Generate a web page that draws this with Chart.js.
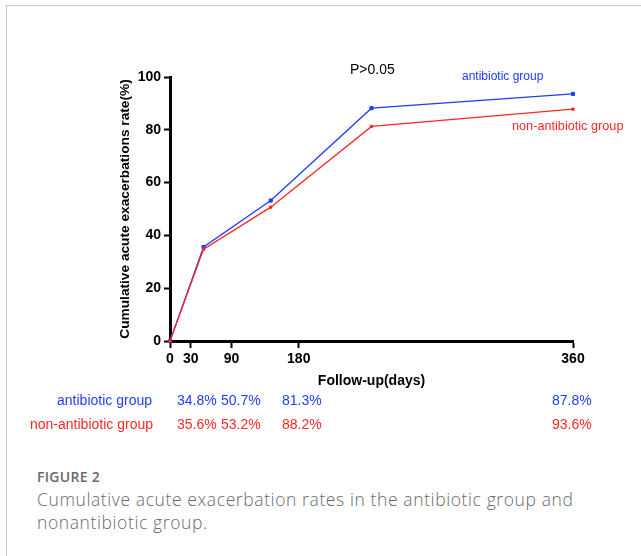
<!DOCTYPE html>
<html>
<head>
<meta charset="utf-8">
<script src="https://cdn.jsdelivr.net/npm/chart.js@4"></script>
<style>
  body { margin: 0; background: #fff; width: 641px; height: 556px; overflow: hidden; position: relative; }
  #frame { position: absolute; left: 6px; top: 5px; right: 0; bottom: 0; border-top: 1px solid #c8c8c8; border-left: 1px solid #c8c8c8; }
  #chart-container { position: absolute; left: 0; top: 0; width: 641px; height: 400px; }
  .txt { position: absolute; white-space: nowrap; font-family: "Liberation Sans", Arial, sans-serif; line-height: 20px; }
  .cap { position: absolute; white-space: nowrap; font-family: "Open Sans", Lato, sans-serif; color: #6a6a6a; }
</style>
</head>
<body>
<div id="frame"></div>
<div id="chart-container"><canvas id="myChart"></canvas></div>
<div id="notes"></div>

<script>
// follow-up days of each measurement
const days = [0, 30, 90, 180, 360];
// values as drawn in the plot
const antibioticLine = [0, 35.6, 53.2, 88.2, 93.6];
const nonAntibioticLine = [0, 34.8, 50.7, 81.3, 87.8];
// x tick marks as they sit on the printed axis, and their labels
const xTickPos = [0, 18.5, 55, 115, 360];
const xTickLabels = ['0', '30', '90', '180', '360'];
const yTicks = [0, 20, 40, 60, 80, 100];
// table under the axis
const tableRows = ['antibiotic group', 'non-antibiotic group'];
const antibioticTable = ['34.8%', '50.7%', '81.3%', '87.8%'];
const nonAntibioticTable = ['35.6%', '53.2%', '88.2%', '93.6%'];

const blue = '#1f3cff';
const red = '#ff2626';

const notes = document.getElementById('notes');
function addText(text, x, cy, size, color, opts = {}) {
  const d = document.createElement('div');
  d.className = 'txt';
  d.textContent = text;
  d.style.fontSize = size + 'px';
  d.style.color = color;
  d.style.top = (cy - 10) + 'px';
  if (opts.right) { d.style.right = (641 - x) + 'px'; } else { d.style.left = x + 'px'; }
  notes.appendChild(d);
}

addText('P>0.05', 350, 69, 14, '#000');
addText(tableRows[0], 462, 76, 12, blue);
addText(tableRows[1], 512, 126, 12.7, red);

const colX = [177, 221, 282, 552];
addText(tableRows[0], 152, 400, 14, blue, { right: true });
addText(tableRows[1], 153, 424, 14, red, { right: true });
for (let i = 0; i < colX.length; i++) {
  addText(antibioticTable[i], colX[i], 400, 14, blue);
  addText(nonAntibioticTable[i], colX[i], 424, 14, red);
}

function addCaption(text, x, cy, size, weight, spacing) {
  const d = document.createElement('div');
  d.className = 'cap';
  d.textContent = text;
  d.style.fontSize = size + 'px';
  d.style.fontWeight = weight;
  d.style.letterSpacing = spacing + 'px';
  d.style.lineHeight = '24px';
  d.style.left = x + 'px';
  d.style.top = (cy - 12) + 'px';
  notes.appendChild(d);
}
addCaption('FIGURE 2', 37, 477, 14, 600, 0.3);
addCaption('Cumulative acute exacerbation rates in the antibiotic group and', 37, 499, 17.5, 300, 0.6);
addCaption('nonantibiotic group.', 37, 522, 17.5, 300, 0.6);

const tickFont = { family: '"Liberation Sans", Arial, sans-serif', size: 14, weight: 'bold' };

new Chart(document.getElementById('myChart').getContext('2d'), {
  type: 'line',
  data: {
    datasets: [
      {
        label: 'non-antibiotic group',
        data: days.map((d, i) => ({ x: d, y: nonAntibioticLine[i] })),
        borderColor: red,
        backgroundColor: red,
        pointBackgroundColor: red,
        pointBorderColor: red,
        pointStyle: 'rect',
        pointRadius: 1.6,
        pointBorderWidth: 1,
        borderWidth: 1.3,
        clip: false,
        fill: false
      },
      {
        label: 'antibiotic group',
        data: days.map((d, i) => ({ x: d, y: antibioticLine[i] })),
        borderColor: blue,
        backgroundColor: blue,
        pointBackgroundColor: blue,
        pointBorderColor: blue,
        pointStyle: 'rect',
        pointRadius: 2.2,
        pointBorderWidth: 1,
        borderWidth: 1.3,
        clip: false,
        fill: false
      }
    ]
  },
  options: {
    responsive: true,
    maintainAspectRatio: false,
    animation: false,
    layout: { padding: { top: 77, left: 110, right: 68, bottom: 0 } },
    plugins: { legend: { display: false }, tooltip: { enabled: false } },
    scales: {
      x: {
        type: 'linear',
        min: 0,
        max: 360,
        afterBuildTicks: (scale) => { scale.ticks = xTickPos.map(v => ({ value: v })); },
        afterFit: (scale) => { scale.height = 59; },
        ticks: {
          autoSkip: false,
          maxRotation: 0,
          padding: 3,
          color: '#000',
          font: tickFont,
          callback: (value, index) => xTickLabels[index]
        },
        grid: { drawOnChartArea: false, tickLength: 7, tickWidth: 2, tickColor: '#000' },
        border: { display: true, color: '#000', width: 3 },
        title: {
          display: true, text: 'Follow-up(days)', color: '#000',
          font: { family: tickFont.family, size: 14, weight: 'bold' },
          padding: { top: 0, bottom: 10 }
        }
      },
      y: {
        min: 0,
        max: 100,
        afterBuildTicks: (scale) => { scale.ticks = yTicks.map(v => ({ value: v })); },
        afterFit: (scale) => { scale.width = 60; },
        ticks: { padding: 3, color: '#000', font: tickFont },
        grid: { drawOnChartArea: false, tickLength: 6, tickWidth: 2, tickColor: '#000' },
        border: { display: true, color: '#000', width: 3 },
        title: {
          display: true, text: 'Cumulative acute exacerbations rate(%)', color: '#000',
          font: { family: tickFont.family, size: 13.7, weight: 'bold' },
          padding: { top: 7, bottom: 0 }
        }
      }
    }
  }
});
</script>
</body>
</html>
